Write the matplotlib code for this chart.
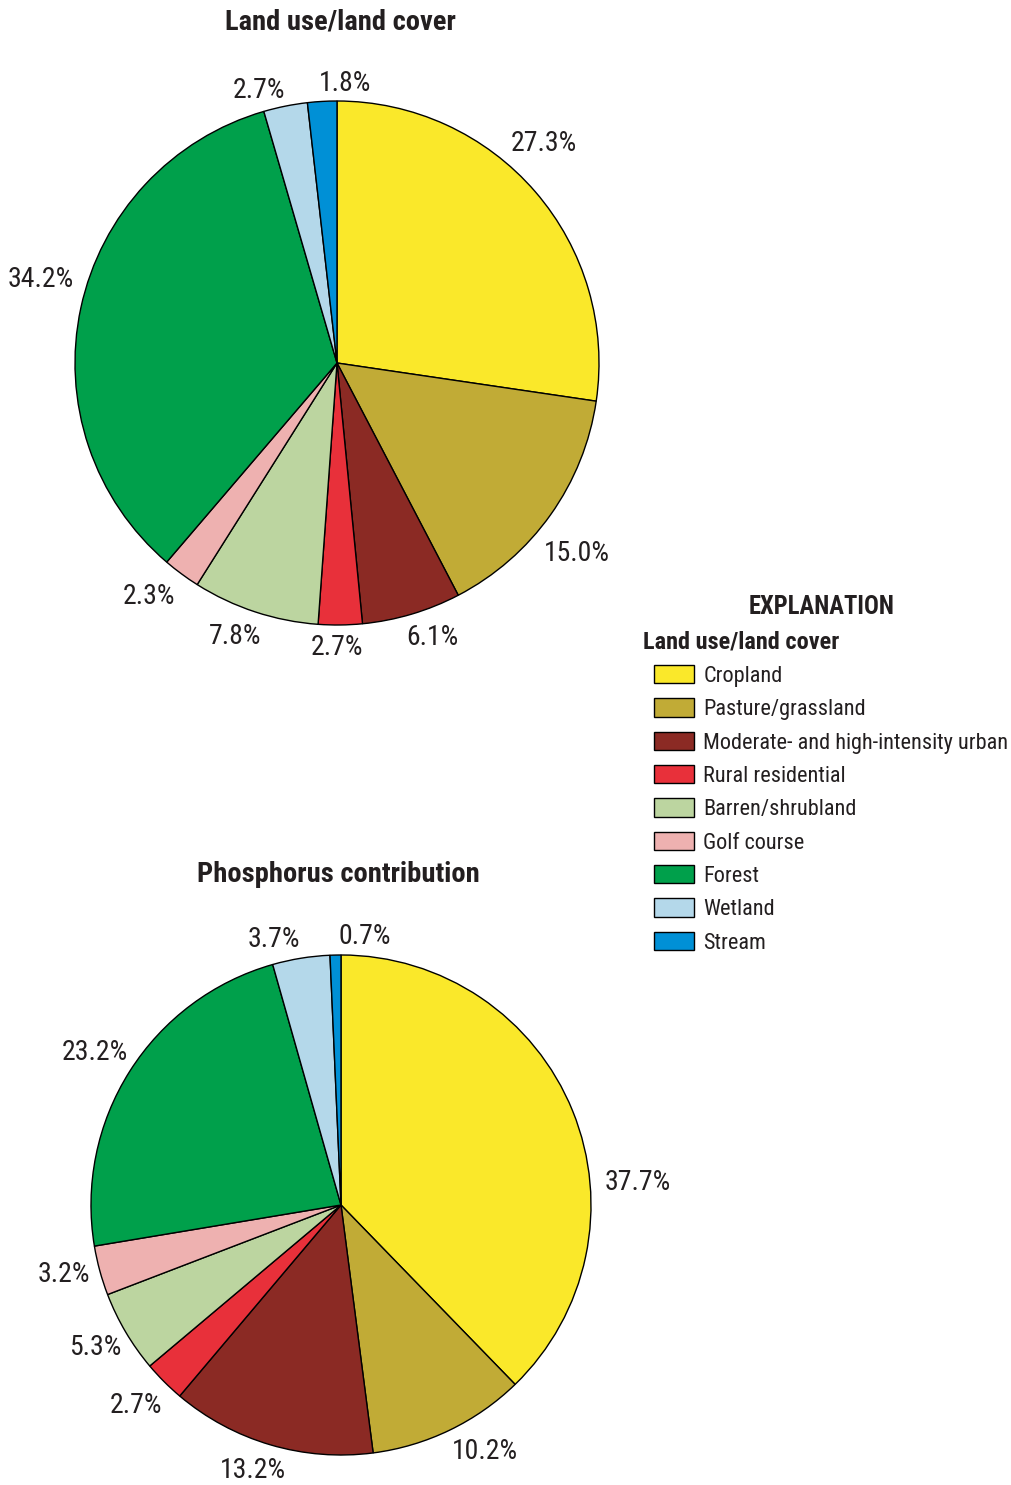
import matplotlib.pyplot as plt
import numpy as np

plt.rcParams['font.family'] = ['Roboto Condensed', 'Archivo Narrow', 'DejaVu Sans']

categories = ['Cropland', 'Pasture/grassland', 'Moderate- and high-intensity urban',
              'Rural residential', 'Barren/shrubland', 'Golf course', 'Forest',
              'Wetland', 'Stream']
colors = ['#FAE82A', '#C1AB36', '#8B2A24', '#E8303A', '#BCD5A0',
          '#EEB1B0', '#00A04B', '#B4D8EA', '#0090D6']

land_cover = [27.3, 15.0, 6.1, 2.7, 7.8, 2.3, 34.2, 2.7, 1.8]
phosphorus = [37.7, 10.2, 13.2, 2.7, 5.3, 3.2, 23.2, 3.7, 0.7]

# label placement: radial distance and angular nudge (deg) per wedge
top_dist = [1.153, 1.168, 1.108, 1.084, 1.115, 1.143, 1.173, 1.082, 1.069]
top_nudge = [5.9, -3.1, 2.6, -0.7, -2.2, -2.4, -3.6, 4.7, -4.8]
bot_dist = [1.192, 1.142, 1.119, 1.146, 1.135, 1.144, 1.158, 1.095, 1.08]
bot_nudge = [-17.7, 4.6, -1.9, -0.6, -0.5, -1.1, 0.6, 5.1, -6.3]

W, H = 1011, 1485
fig = plt.figure(figsize=(W / 100, H / 100), dpi=100)
txt_color = '#231F20'


def pie_axes(cx, cy, r):
    # square axes (in pixels) centered on the pie
    s = 1.5 * r
    ax = fig.add_axes([(cx - s) / W, (H - cy - s) / H, 2 * s / W, 2 * s / H])
    return ax


def draw_pie(ax, values, dist, nudge, title, title_pos):
    wedges, _ = ax.pie(values, colors=colors, startangle=90, counterclock=False,
                       wedgeprops=dict(edgecolor='black', linewidth=1.0))
    ax.set_xlim(-1.5, 1.5)
    ax.set_ylim(-1.5, 1.5)
    ax.axis('off')
    for w, v, d, n in zip(wedges, values, dist, nudge):
        a = np.deg2rad((w.theta1 + w.theta2) / 2 + n)
        ax.text(d * np.cos(a), d * np.sin(a), f'{v:.1f}%', ha='center', va='center',
                fontsize=20, color=txt_color, clip_on=False)
    ax.text(title_pos[0], title_pos[1], title, ha='center', va='center', fontsize=20.5,
            fontweight='bold', color=txt_color, clip_on=False)
    return wedges


ax1 = pie_axes(337, 363, 262)
wedges = draw_pie(ax1, land_cover, top_dist, top_nudge, 'Land use/land cover', (0.015, 1.300))

ax2 = pie_axes(341, 1205, 250)
draw_pie(ax2, phosphorus, bot_dist, bot_nudge, 'Phosphorus contribution', (-0.012, 1.32))

fig.text(822 / W, 1 - 607 / H, 'EXPLANATION', ha='center', va='center',
         fontsize=17.7, fontweight='bold', color=txt_color)
fig.text(643 / W, 1 - 642 / H, 'Land use/land cover', ha='left', va='center',
         fontsize=17.5, fontweight='bold', color=txt_color)

leg = fig.legend(wedges, categories, loc='upper left',
                 bbox_to_anchor=(654 / W, 1 - 665 / H), frameon=False,
                 fontsize=16, handlelength=1.8, handleheight=0.9,
                 handletextpad=0.42, labelspacing=0.515, borderpad=0.0,
                 borderaxespad=0.0)
for t in leg.get_texts():
    t.set_color(txt_color)

fig.savefig('out.png', dpi=100)
